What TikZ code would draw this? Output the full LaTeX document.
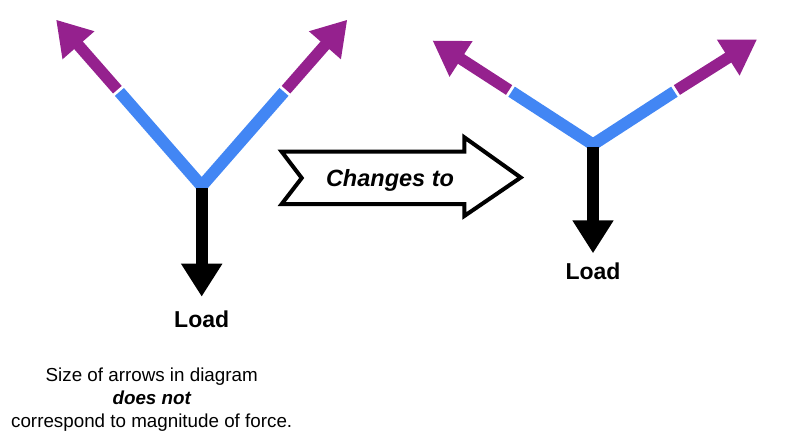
\documentclass[tikz,border=0pt]{standalone}
\usepackage{fontspec}
\setmainfont{Liberation Sans}
\usetikzlibrary{arrows.meta}

\definecolor{memberblue}{RGB}{66,134,244}
\definecolor{forcepurple}{RGB}{149,33,142}

\tikzset{
  member/.style={draw=memberblue, line width=12pt, line cap=butt, line join=miter},
  pull/.style={draw=forcepurple, line width=11.5pt,
    -{Triangle[width=40pt,length=34pt]}, forcepurple},
  load/.style={draw=black, line width=12pt,
    -{Triangle[width=39pt,length=33pt]}, black},
  loadlabel/.style={anchor=base, inner sep=0pt, font=\bfseries\fontsize{23}{27}\selectfont},
  notetext/.style={anchor=base, inner sep=0pt, font=\fontsize{18.8}{22}\selectfont},
  bigarrow/.style={draw=black, line width=4pt, line join=miter, fill=white}
}

\begin{document}
\begin{tikzpicture}[x=1pt, y=-1pt]
  \useasboundingbox (0,0) rectangle (800,440);

  % ---- first frame: wide Y ----
  \coordinate (v1)   at (201.7,186);
  \coordinate (m1l)  at (119.4,91.9);
  \coordinate (m1r)  at (284,91.9);
  \coordinate (p1ls) at (117.4,89.7);
  \coordinate (p1rs) at (286,89.7);
  \coordinate (p1lt) at (56.1,19.7);
  \coordinate (p1rt) at (347.3,19.7);
  \coordinate (l1s)  at (201.7,188.3);
  \coordinate (l1t)  at (201.7,296.7);

  \draw[member] (m1l) -- (v1) -- (m1r);
  \draw[pull] (p1ls) -- (p1lt);
  \draw[pull] (p1rs) -- (p1rt);
  \draw[load] (l1s) -- (l1t);
  \node[loadlabel] (load1) at (201.7,327.7) {Load};

  % ---- second frame: flatter Y ----
  \coordinate (v2)   at (593,144.5);
  \coordinate (m2l)  at (511.6,91.7);
  \coordinate (m2r)  at (674.4,91.7);
  \coordinate (p2ls) at (509.1,90);
  \coordinate (p2rs) at (676.9,90);
  \coordinate (p2lt) at (432.5,40.5);
  \coordinate (p2rt) at (757,39.5);
  \coordinate (l2s)  at (593,146.7);
  \coordinate (l2t)  at (593,253.3);

  \draw[member] (m2l) -- (v2) -- (m2r);
  \draw[pull] (p2ls) -- (p2lt);
  \draw[pull] (p2rs) -- (p2rt);
  \draw[load] (l2s) -- (l2t);
  \node[loadlabel] (load2) at (593,279.3) {Load};

  % ---- transition arrow ----
  \draw[bigarrow] (281.7,151.7) -- (464.3,151.7) -- (464.3,137.3)
    -- (520.7,177.5) -- (464.3,216) -- (464.3,204) -- (281.7,204)
    -- (301.7,178) -- cycle;
  \node[anchor=base, inner sep=0pt,
        font=\bfseries\itshape\fontsize{23.5}{28}\selectfont]
        (changes) at (390,186) {Changes to};

  % ---- footnote ----
  \node[notetext] (note1) at (151.7,381) {Size of arrows in diagram};
  \node[notetext, font=\bfseries\itshape\fontsize{18.8}{22}\selectfont]
        (note2) at (151.7,404) {does not};
  \node[notetext] (note3) at (151.7,427.7) {correspond to magnitude of force.};
\end{tikzpicture}
\end{document}
